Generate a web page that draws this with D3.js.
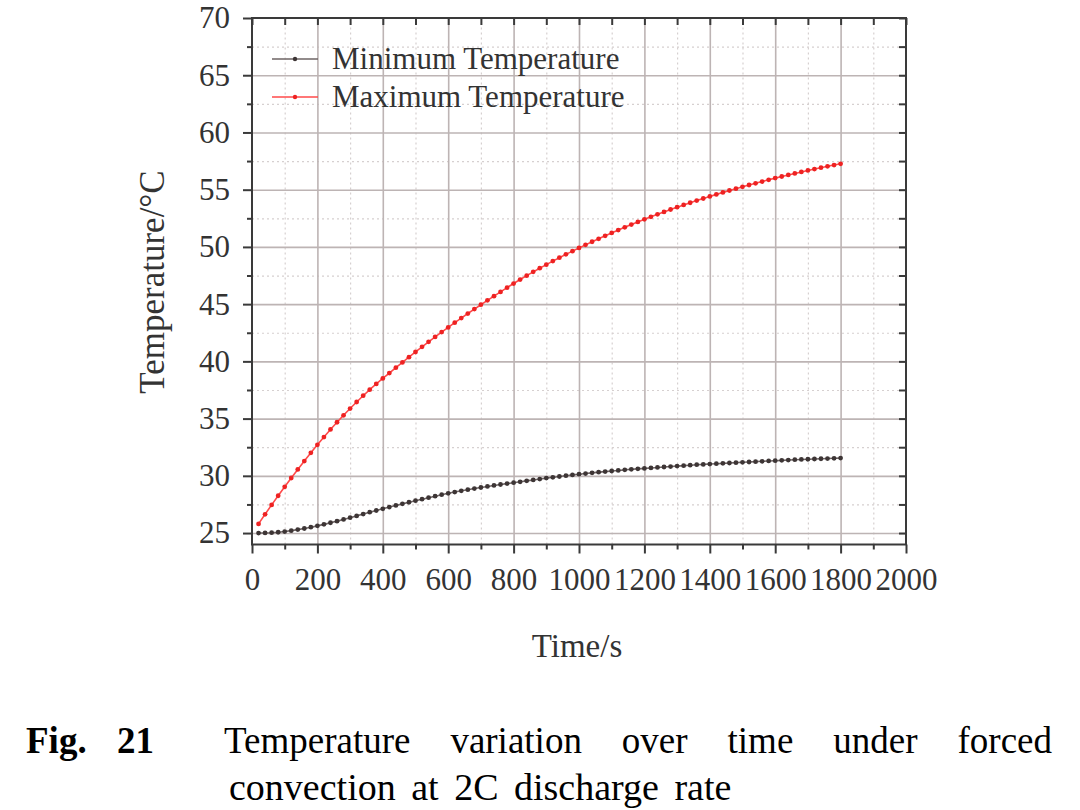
<!DOCTYPE html>
<html>
<head>
<meta charset="utf-8">
<script src="https://cdn.jsdelivr.net/npm/d3@7"></script>
<style>
    body { margin: 0; background: #fff; }
    text { font-family: 'Liberation Serif', 'Times New Roman', serif; }
</style>
</head>
<body>
<script>
const W = 1080, H = 810;
const margin = { top: 18, right: 174, bottom: 265.5, left: 252 },
    width = W - margin.left - margin.right,
    height = H - margin.top - margin.bottom;

// sample times (s)
const times = [
    20, 40, 60, 80, 100, 120, 140, 160, 180, 200,
    220, 240, 260, 280, 300, 320, 340, 360, 380, 400,
    420, 440, 460, 480, 500, 520, 540, 560, 580, 600,
    620, 640, 660, 680, 700, 720, 740, 760, 780, 800,
    820, 840, 860, 880, 900, 920, 940, 960, 980, 1000,
    1020, 1040, 1060, 1080, 1100, 1120, 1140, 1160, 1180, 1200,
    1220, 1240, 1260, 1280, 1300, 1320, 1340, 1360, 1380, 1400,
    1420, 1440, 1460, 1480, 1500, 1520, 1540, 1560, 1580, 1600,
    1620, 1640, 1660, 1680, 1700, 1720, 1740, 1760, 1780, 1800
];
const minTemp = [
    25.00, 25.01, 25.03, 25.07, 25.13, 25.21, 25.30, 25.40, 25.51, 25.63,
    25.76, 25.90, 26.04, 26.19, 26.34, 26.50, 26.66, 26.82, 26.97, 27.12,
    27.27, 27.41, 27.55, 27.69, 27.83, 27.96, 28.09, 28.22, 28.35, 28.47,
    28.58, 28.69, 28.79, 28.89, 28.98, 29.07, 29.16, 29.24, 29.32, 29.40,
    29.48, 29.56, 29.64, 29.72, 29.80, 29.87, 29.94, 30.01, 30.08, 30.14,
    30.20, 30.26, 30.32, 30.37, 30.42, 30.47, 30.52, 30.57, 30.61, 30.65,
    30.69, 30.73, 30.77, 30.81, 30.85, 30.89, 30.93, 30.97, 31.00, 31.03,
    31.06, 31.09, 31.12, 31.15, 31.18, 31.21, 31.24, 31.27, 31.30, 31.32,
    31.35, 31.38, 31.41, 31.43, 31.45, 31.47, 31.49, 31.51, 31.53, 31.55
];
const maxTemp = [
    25.80, 26.64, 27.46, 28.26, 29.04, 29.81, 30.56, 31.29, 32.01, 32.71,
    33.39, 34.05, 34.68, 35.29, 35.88, 36.45, 37.00, 37.53, 38.03, 38.51,
    38.98, 39.45, 39.91, 40.37, 40.82, 41.27, 41.71, 42.14, 42.56, 42.97,
    43.38, 43.78, 44.18, 44.57, 44.95, 45.33, 45.70, 46.07, 46.44, 46.80,
    47.15, 47.49, 47.82, 48.14, 48.45, 48.76, 49.06, 49.35, 49.63, 49.91,
    50.18, 50.45, 50.71, 50.97, 51.22, 51.47, 51.71, 51.95, 52.18, 52.41,
    52.63, 52.85, 53.06, 53.27, 53.47, 53.67, 53.86, 54.05, 54.23, 54.41,
    54.59, 54.76, 54.93, 55.09, 55.25, 55.41, 55.56, 55.71, 55.86, 56.01,
    56.15, 56.29, 56.42, 56.55, 56.68, 56.80, 56.92, 57.04, 57.15, 57.26
];

const seriesNames = ['Minimum Temperature', 'Maximum Temperature'];
const xTicks = [0, 200, 400, 600, 800, 1000, 1200, 1400, 1600, 1800, 2000];
const xMinorTicks = [100, 300, 500, 700, 900, 1100, 1300, 1500, 1700, 1900];
const yTicks = [25, 30, 35, 40, 45, 50, 55, 60, 65, 70];
const yMinorTicks = [27.5, 32.5, 37.5, 42.5, 47.5, 52.5, 57.5, 62.5, 67.5];
const captionLabel = ['Fig.', '21'];
const captionLine1 = ['Temperature', 'variation', 'over', 'time', 'under', 'forced'];
const captionLine2 = 'convection at 2C discharge rate';

const lineColor = { 'Minimum Temperature': '#6e6464', 'Maximum Temperature': '#ff4a4a' };
const dotColor = { 'Minimum Temperature': '#3d3535', 'Maximum Temperature': '#ee2222' };

const series = seriesNames.map((name, k) => {
    const vals = k === 0 ? minTemp : maxTemp;
    return { name: name, values: times.map((t, i) => ({ t: t, v: vals[i] })) };
});

const xScale = d3.scaleLinear().domain([0, 2000]).range([0, width]);
const yScale = d3.scaleLinear().domain([24, 70]).range([height, 0]);

const svg = d3.select('body').append('svg')
    .attr('width', W)
    .attr('height', H)
    .attr('viewBox', '0 0 ' + W + ' ' + H);

const g = svg.append('g')
    .attr('transform', 'translate(' + margin.left + ',' + margin.top + ')');

// gridlines
function grid (axis, cls) {
    return sel => {
        sel.call(axis);
        sel.select('.domain').remove();
        sel.selectAll('.tick line').attr('class', cls);
    };
}
g.append('g')
    .attr('transform', 'translate(0,' + height + ')')
    .call(grid(d3.axisBottom(xScale).tickValues(xMinorTicks).tickSize(-height).tickFormat(''), 'minor'));
g.append('g')
    .call(grid(d3.axisLeft(yScale).tickValues(yMinorTicks).tickSize(-width).tickFormat(''), 'minor'));
g.append('g')
    .attr('transform', 'translate(0,' + height + ')')
    .call(grid(d3.axisBottom(xScale).tickValues(xTicks.slice(1, -1)).tickSize(-height).tickFormat(''), 'major'));
g.append('g')
    .call(grid(d3.axisLeft(yScale).tickValues(yTicks.slice(0, -1)).tickSize(-width).tickFormat(''), 'major'));
g.selectAll('line.minor')
    .attr('stroke', '#d6d0d0')
    .attr('stroke-width', 1.2)
    .attr('stroke-dasharray', '2,3');
g.selectAll('line.major')
    .attr('stroke', '#bdb4b4')
    .attr('stroke-width', 1.6);

// lines + dots
const line = d3.line()
    .x(d => xScale(d.t))
    .y(d => yScale(d.v));
const sg = g.selectAll('.series')
    .data(series)
    .enter().append('g')
    .attr('class', 'series');
sg.append('path')
    .attr('d', d => line(d.values))
    .attr('fill', 'none')
    .attr('stroke', d => lineColor[d.name])
    .attr('stroke-width', 1.6);
sg.selectAll('circle')
    .data(d => d.values.map(p => ({ t: p.t, v: p.v, name: d.name })))
    .enter().append('circle')
    .attr('cx', d => xScale(d.t))
    .attr('cy', d => yScale(d.v))
    .attr('r', 2.4)
    .attr('fill', d => dotColor[d.name]);

// frame
g.append('rect')
    .attr('width', width)
    .attr('height', height)
    .attr('fill', 'none')
    .attr('stroke', '#3a3a3a')
    .attr('stroke-width', 2);

// axes
const fmt = d3.format('d');
function styleAxis (sel) {
    sel.select('.domain').remove();
    sel.selectAll('.tick line').attr('stroke', '#3a3a3a').attr('stroke-width', 2);
    sel.selectAll('.tick text')
        .attr('fill', '#333')
        .style('font-size', '31px')
        .style('font-family', "'Liberation Serif', 'Times New Roman', serif");
}
g.append('g')
    .attr('transform', 'translate(0,' + height + ')')
    .call(d3.axisBottom(xScale).tickValues(xTicks).tickFormat(fmt).tickSize(9).tickPadding(14))
    .call(styleAxis);
g.append('g')
    .attr('transform', 'translate(0,' + height + ')')
    .call(d3.axisBottom(xScale).tickValues(xMinorTicks).tickSize(5).tickFormat(''))
    .call(styleAxis);
g.append('g')
    .call(d3.axisLeft(yScale).tickValues(yTicks).tickFormat(fmt).tickSize(9).tickPadding(13))
    .call(styleAxis);
g.append('g')
    .call(d3.axisLeft(yScale).tickValues(yMinorTicks).tickSize(5).tickFormat(''))
    .call(styleAxis);
// inward ticks on top and right frame
g.append('g')
    .call(d3.axisBottom(xScale).tickValues(xTicks.concat(xMinorTicks)).tickSize(7).tickFormat(''))
    .call(styleAxis);
g.append('g')
    .attr('transform', 'translate(' + width + ',0)')
    .call(d3.axisLeft(yScale).tickValues(yTicks.concat(yMinorTicks)).tickSize(7).tickFormat(''))
    .call(styleAxis);

// axis titles
svg.append('text')
    .attr('transform', 'translate(164,282) rotate(-90)')
    .attr('text-anchor', 'middle')
    .attr('fill', '#333')
    .style('font-size', '35px')
    .text('Temperature/°C');
svg.append('text')
    .attr('x', margin.left + xScale(1000) - 2)
    .attr('y', 657)
    .attr('text-anchor', 'middle')
    .attr('fill', '#333')
    .style('font-size', '33px')
    .text('Time/s');

// legend
const legend = svg.append('g')
    .attr('transform', 'translate(272,59)');
const item = legend.selectAll('.item')
    .data(seriesNames)
    .enter().append('g')
    .attr('class', 'item')
    .attr('transform', (d, i) => 'translate(0,' + (i * 38) + ')');
item.append('line')
    .attr('x1', 0).attr('x2', 46)
    .attr('stroke', d => lineColor[d])
    .attr('stroke-width', 1.6);
item.append('circle')
    .attr('cx', 23)
    .attr('r', 2.2)
    .attr('fill', d => dotColor[d]);
item.append('text')
    .attr('x', 60)
    .attr('y', 10)
    .attr('fill', '#333')
    .style('font-size', '31px')
    .text(d => d);

// caption
const cap = svg.append('g').attr('fill', '#000');
cap.append('text')
    .attr('x', 26).attr('y', 753)
    .style('font-size', '37px').style('font-weight', 'bold')
    .text(captionLabel[0]);
cap.append('text')
    .attr('x', 117).attr('y', 753)
    .style('font-size', '37px').style('font-weight', 'bold')
    .text(captionLabel[1]);
// justified first line
const x0 = 224, x1 = 1052;
const words = cap.selectAll('.w')
    .data(captionLine1)
    .enter().append('text')
    .attr('class', 'w')
    .attr('y', 753)
    .style('font-size', '37px')
    .text(d => d);
const lens = [];
words.each(function () { lens.push(this.getComputedTextLength()); });
const gap = (x1 - x0 - d3.sum(lens)) / (lens.length - 1);
let cx = x0;
words.attr('x', (d, i) => { const p = cx; cx += lens[i] + gap; return p; });
cap.append('text')
    .attr('x', 229).attr('y', 800)
    .style('font-size', '38px')
    .style('word-spacing', '6px')
    .text(captionLine2);
</script>
</body>
</html>
